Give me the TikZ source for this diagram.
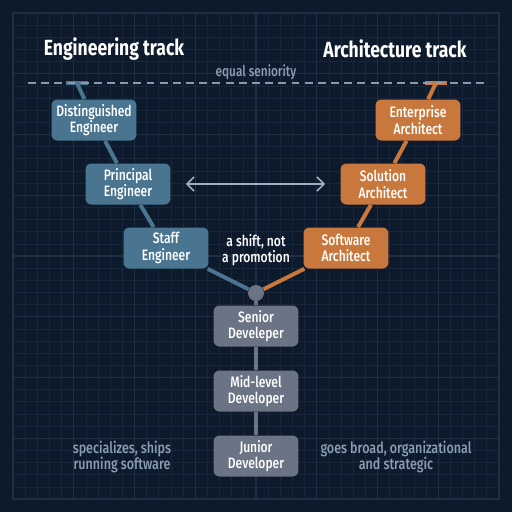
\documentclass[tikz,border=0pt]{standalone}
\usepackage{fontspec}
\setmainfont{Fira Sans}[FakeStretch=0.8]
\newfontfamily\medfont{Fira Sans Medium}[FakeStretch=0.8]
\usetikzlibrary{arrows.meta, positioning}

\definecolor{bgnavy}{HTML}{0D1A2B}
\definecolor{gridminor}{HTML}{17263A}
\definecolor{gridmajor}{HTML}{1E2F44}
\definecolor{engblue}{HTML}{4A7591}
\definecolor{archorange}{HTML}{C8783C}
\definecolor{devgray}{HTML}{6A7484}
\definecolor{softgray}{HTML}{A0AFC3}
\definecolor{notegray}{HTML}{8A9EB4}

\pgfdeclarelayer{grid}
\pgfdeclarelayer{edges}
\pgfsetlayers{grid,edges,main}

\tikzset{
  rung/.style={rectangle, rounded corners=0.12cm, minimum width=1.7cm, minimum height=0.82cm,
    inner sep=0pt, align=center, text=white, font=\medfont\fontsize{8.6}{9.4}\selectfont},
  engbox/.style={rung, fill=engblue},
  archbox/.style={rung, fill=archorange},
  devbox/.style={rung, fill=devgray},
  engline/.style={line width=0.08cm, draw=engblue},
  archline/.style={line width=0.08cm, draw=archorange},
  devline/.style={line width=0.08cm, draw=devgray},
  note/.style={align=center, text=notegray, font=\medfont\fontsize{8.9}{9.6}\selectfont},
  title/.style={text=white, font=\bfseries\fontsize{12.5}{14}\selectfont}
}

\begin{document}
\begin{tikzpicture}[x=0.02cm, y=-0.02cm]
\useasboundingbox (0,0) rectangle (512,512);

% grid panel
\begin{pgfonlayer}{grid}
\fill[bgnavy] (0,0) rectangle (512,512);
\foreach \i in {0,...,40} {
  \pgfmathsetmacro{\p}{13+\i*12.15}
  \draw[gridminor, line width=0.4pt] (\p,13) -- (\p,499);
  \draw[gridminor, line width=0.4pt] (13,\p) -- (499,\p);
}
\foreach \i in {0,5,...,40} {
  \pgfmathsetmacro{\p}{13+\i*12.15}
  \draw[gridmajor, line width=0.6pt] (\p,13) -- (\p,499);
  \draw[gridmajor, line width=0.6pt] (13,\p) -- (499,\p);
}
\draw[gridmajor, line width=0.8pt] (13,13) rectangle (499,499);
\end{pgfonlayer}

% headings
\node[title] (engtitle) at (114,49) {Engineering track};
\node[title] (archtitle) at (395,49) {Architecture track};
\node[note, font=\medfont\fontsize{8.4}{9}\selectfont] (equal) at (256,72) {equal seniority};
\draw[softgray!85!bgnavy, line width=0.7pt, dash pattern=on 4.5pt off 3pt] (28,83) -- (485,83);

% engineering track
\node[engbox] (distinguished) at (94,120) {Distinguished\\Engineer};
\node[engbox] (principal) at (128,184) {Principal\\Engineer};
\node[engbox] (staff) at (166,248) {Staff\\Engineer};

% architecture track
\node[archbox] (enterprise) at (418,120) {Enterprise\\Architect};
\node[archbox] (solution) at (383,184) {Solution\\Architect};
\node[archbox] (software) at (346,248) {Software\\Architect};

% shared ladder
\node[circle, fill=devgray, minimum size=0.32cm, inner sep=0pt] (fork) at (256,293) {};
\node[devbox] (senior) at (256,326) {Senior\\Develeper};
\node[devbox] (midlevel) at (256,391) {Mid-level\\Developer};
\node[devbox] (junior) at (256,456) {Junior\\Developer};

\coordinate (engtop) at (77,83);
\coordinate (archtop) at (436,83);

\begin{pgfonlayer}{edges}
\draw[engline] (fork) -- (staff) -- (principal) -- (distinguished) -- (engtop);
\draw[engline] ([xshift=-0.23cm]engtop) -- ([xshift=0.23cm]engtop);
\draw[archline] (fork) -- (software) -- (solution) -- (enterprise) -- (archtop);
\draw[archline] ([xshift=-0.23cm]archtop) -- ([xshift=0.23cm]archtop);
\draw[devline] (fork) -- (senior) -- (midlevel) -- (junior);
\end{pgfonlayer}

\draw[softgray, line width=0.9pt, {Straight Barb[length=4pt,width=8pt]}-{Straight Barb[length=4pt,width=8pt]},
  shorten <=0.3cm, shorten >=0.3cm] (principal.east) -- (solution.west);

\node[align=center, text=white, font=\medfont\fontsize{8.6}{9.4}\selectfont] (shift) at (256,250) {a shift, not\\a promotion};
\node[note] (engnote) at (122,457) {specializes, ships\\running software};
\node[note] (archnote) at (396,457) {goes broad, organizational\\and strategic};
\end{tikzpicture}
\end{document}
